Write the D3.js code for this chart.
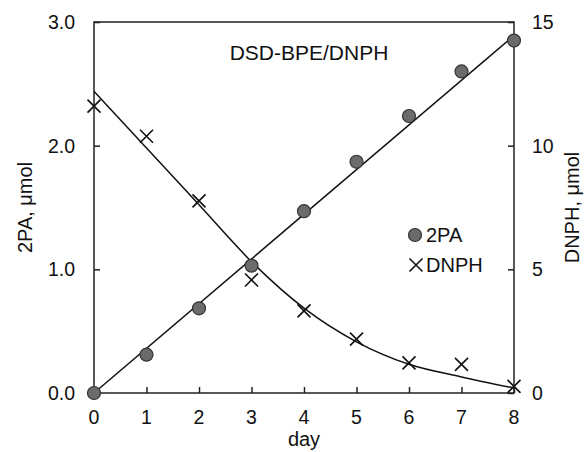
<!DOCTYPE html>
<head>
    <title>DSD-BPE/DNPH</title>
    <script src="https://d3js.org/d3.v7.min.js"></script>
</head>
<style>
body { margin: 0; background: #fff; font-family: "Liberation Sans", Arial, sans-serif; }
text { fill: #111; }
</style>
<body>
    <svg></svg>
</body>
<script>
    // Data
    var days = [0, 1, 2, 3, 4, 5, 6, 7, 8];
    var pa = [0.0, 0.31, 0.685, 1.03, 1.47, 1.87, 2.24, 2.60, 2.85];
    var dnph = [11.6, 10.38, 7.77, 4.57, 3.32, 2.18, 1.22, 1.16, 0.27];
    // fitted lines
    var paFitDays = [0, 8];
    var paFit = [0, 2.89];
    var dnphFit = [12.2, 9.91, 7.61, 5.31, 3.43, 2.07, 1.16, 0.65, 0.2];
    var leftTicks = [0, 1, 2, 3];
    var rightTicks = [0, 5, 10, 15];

    var width = 584, height = 452;
    var margin = {left: 94, right: 70, top: 22, bottom: 59};

    var svg = d3.select('svg').attr('width', width).attr('height', height);

    var x = d3.scaleLinear().domain([0, 8]).range([margin.left, width - margin.right]);
    var yL = d3.scaleLinear().domain([0, 3]).range([height - margin.bottom, margin.top]);
    var yR = d3.scaleLinear().domain([0, 15]).range([height - margin.bottom, margin.top]);

    // frame
    svg.append('rect')
        .attr('x', margin.left).attr('y', margin.top)
        .attr('width', width - margin.left - margin.right)
        .attr('height', height - margin.top - margin.bottom)
        .attr('fill', 'none').attr('stroke', '#222').attr('stroke-width', 1.5);

    // axes, ticks pointing inward
    var fs = '19.5px';
    svg.append('g')
        .attr('transform', 'translate(0,' + (height - margin.bottom) + ')')
        .call(d3.axisTop(x).tickValues(days).tickSize(6).tickFormat(''))
        .call(function (g) { g.select('.domain').remove(); });
    svg.append('g')
        .attr('transform', 'translate(' + margin.left + ',0)')
        .call(d3.axisRight(yL).tickValues(leftTicks).tickSize(6).tickFormat(''))
        .call(function (g) { g.select('.domain').remove(); });
    svg.append('g')
        .attr('transform', 'translate(' + (width - margin.right) + ',0)')
        .call(d3.axisLeft(yR).tickValues(rightTicks).tickSize(6).tickFormat(''))
        .call(function (g) { g.select('.domain').remove(); });
    svg.selectAll('.tick line').attr('stroke', '#222').attr('stroke-width', 1.5);

    // tick labels
    svg.append('g').selectAll('text').data(days).enter().append('text')
        .attr('x', function (d) { return x(d); })
        .attr('y', height - margin.bottom + 31)
        .attr('text-anchor', 'middle').style('font-size', fs)
        .text(function (d) { return d; });
    svg.append('g').selectAll('text').data(leftTicks).enter().append('text')
        .attr('x', margin.left - 19)
        .attr('y', function (d) { return yL(d) + 7; })
        .attr('text-anchor', 'end').style('font-size', fs)
        .text(function (d) { return d.toFixed(1); });
    svg.append('g').selectAll('text').data(rightTicks).enter().append('text')
        .attr('x', width - margin.right + 18)
        .attr('y', function (d) { return yR(d) + 7; })
        .attr('text-anchor', 'start').style('font-size', fs)
        .text(function (d) { return d; });

    // axis titles
    var midY = (margin.top + height - margin.bottom) / 2;
    svg.append('text')
        .attr('transform', 'translate(32,' + midY + ')rotate(-90)')
        .attr('text-anchor', 'middle').style('font-size', '20px')
        .text('2PA, μmol');
    svg.append('text')
        .attr('transform', 'translate(579,' + midY + ')rotate(-90)')
        .attr('text-anchor', 'middle').style('font-size', '20px')
        .text('DNPH, μmol');
    svg.append('text')
        .attr('x', x(4)).attr('y', 446)
        .attr('text-anchor', 'middle').style('font-size', '20px')
        .text('day');
    svg.append('text')
        .attr('x', 309).attr('y', 60)
        .attr('text-anchor', 'middle').style('font-size', '21px')
        .text('DSD-BPE/DNPH');

    // fit lines
    var lineL = d3.line()
        .x(function (d) { return x(d[0]); })
        .y(function (d) { return yL(d[1]); });
    var lineR = d3.line()
        .x(function (d) { return x(d[0]); })
        .y(function (d) { return yR(d[1]); })
        .curve(d3.curveMonotoneX);
    svg.append('path')
        .attr('d', lineL(d3.zip(paFitDays, paFit)))
        .attr('fill', 'none').attr('stroke', '#111').attr('stroke-width', 1.5);
    svg.append('path')
        .attr('d', lineR(d3.zip(days, dnphFit)))
        .attr('fill', 'none').attr('stroke', '#111').attr('stroke-width', 1.5);

    // markers
    function cross(g, cx, cy) {
        var s = 6.5;
        g.append('path')
            .attr('d', 'M' + (cx - s) + ',' + (cy - s) + 'L' + (cx + s) + ',' + (cy + s) +
                'M' + (cx - s) + ',' + (cy + s) + 'L' + (cx + s) + ',' + (cy - s))
            .attr('stroke', '#111').attr('stroke-width', 1.6).attr('fill', 'none');
    }
    var crosses = svg.append('g');
    days.forEach(function (d, i) { cross(crosses, x(d), yR(dnph[i])); });

    svg.append('g').selectAll('circle').data(days).enter().append('circle')
        .attr('cx', function (d) { return x(d); })
        .attr('cy', function (d, i) { return yL(pa[i]); })
        .attr('r', 6.5)
        .attr('fill', '#6b6b6b').attr('stroke', '#333').attr('stroke-width', 1.2);

    // legend
    svg.append('circle').attr('cx', 415).attr('cy', 235).attr('r', 6.5)
        .attr('fill', '#6b6b6b').attr('stroke', '#333').attr('stroke-width', 1.2);
    svg.append('text').attr('x', 426).attr('y', 242).style('font-size', '20px').text('2PA');
    cross(svg, 416, 265);
    svg.append('text').attr('x', 426).attr('y', 272).style('font-size', '20px').text('DNPH');
</script>
